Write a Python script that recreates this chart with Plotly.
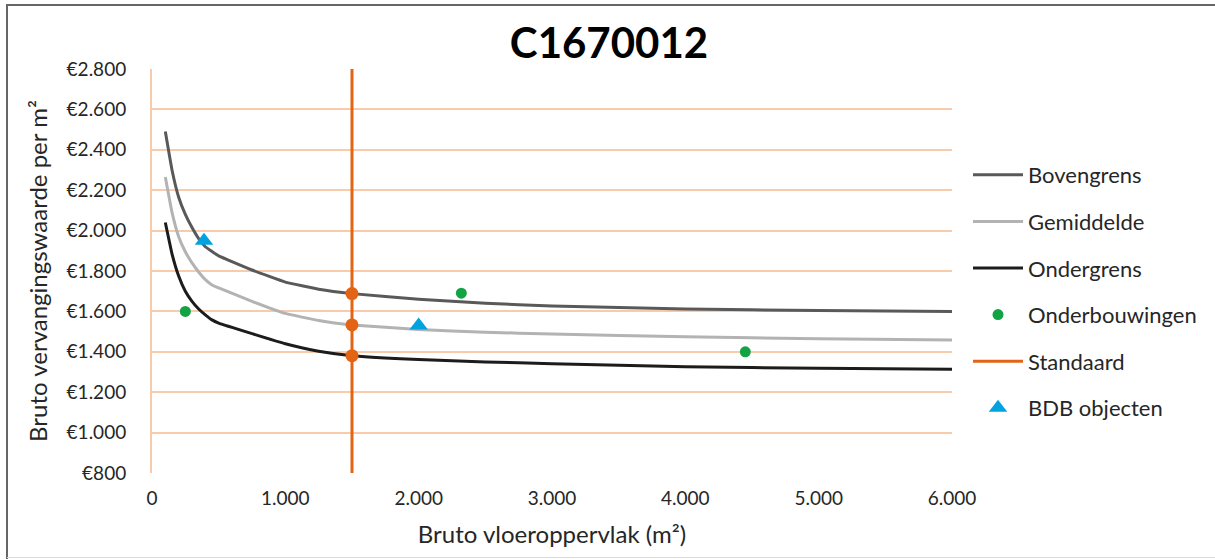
import plotly.graph_objects as go

# Bandbreedte van de vervangingswaarde (EUR per m2) als functie van het bruto vloeroppervlak
opp = [100, 150, 200, 250, 300, 350, 400, 450, 500, 750, 1000, 1250, 1500,
       2000, 2500, 3000, 4000, 5000, 6000]
bovengrens = [2490, 2300, 2165, 2080, 2015, 1960, 1920, 1897, 1875, 1805, 1745,
              1710, 1688, 1660, 1640, 1627, 1612, 1604, 1599]
gemiddelde = [2265, 2090, 1970, 1895, 1840, 1795, 1757, 1731, 1716, 1650, 1590,
              1555, 1533, 1510, 1497, 1488, 1474, 1465, 1459]
ondergrens = [2040, 1885, 1775, 1700, 1650, 1612, 1583, 1558, 1542, 1490, 1440,
              1403, 1381, 1362, 1350, 1341, 1326, 1318, 1313]

# Onderbouwingen
onderb_x = [250, 2320, 4450]
onderb_y = [1600, 1690, 1400]

# BDB objecten
bdb_x = [390, 2000]
bdb_y = [1950, 1530]

# Standaard oppervlak en snijpunten met de drie lijnen
standaard_x = 1500
standaard_snij = [1688, 1533, 1381]

y_ticks = [800, 1000, 1200, 1400, 1600, 1800, 2000, 2200, 2400, 2600, 2800]
y_labels = ["€800", "€1.000", "€1.200", "€1.400", "€1.600", "€1.800", "€2.000",
            "€2.200", "€2.400", "€2.600", "€2.800"]
x_ticks = [0, 1000, 2000, 3000, 4000, 5000, 6000]
x_labels = ["0", "1.000", "2.000", "3.000", "4.000", "5.000", "6.000"]

FONT = "Lato"
GRID = "#F8CBAD"
TXT = "#262626"
W, H = 1215, 559
L, R, T, B = 152, 263, 69, 86

fig = go.Figure()

line_style = dict(shape="spline", smoothing=0.3)
fig.add_trace(go.Scatter(x=opp, y=bovengrens, mode="lines", name="Bovengrens",
                         line=dict(color="#595959", width=3, **line_style),
                         legendgroup="a"))
fig.add_trace(go.Scatter(x=opp, y=gemiddelde, mode="lines", name="Gemiddelde",
                         line=dict(color="#B3B3B3", width=3, **line_style),
                         legendgroup="b"))
fig.add_trace(go.Scatter(x=opp, y=ondergrens, mode="lines", name="Ondergrens",
                         line=dict(color="#1C1C1C", width=3, **line_style),
                         legendgroup="c"))
fig.add_trace(go.Scatter(x=onderb_x, y=onderb_y, mode="markers", name="Onderbouwingen",
                         marker=dict(color="#12A444", size=11, symbol="circle"),
                         legendgroup="d"))
fig.add_trace(go.Scatter(x=[standaard_x, standaard_x], y=[y_ticks[0], y_ticks[-1]],
                         mode="lines", name="Standaard",
                         line=dict(color="#E36414", width=3), legendgroup="e"))
fig.add_trace(go.Scatter(x=[standaard_x] * len(standaard_snij), y=standaard_snij,
                         mode="markers", showlegend=False,
                         marker=dict(color="#E36414", size=13), legendgroup="e"))
fig.add_trace(go.Scatter(x=bdb_x, y=bdb_y, mode="markers", name="BDB objecten",
                         marker=dict(color="#00A3E0", size=16, symbol="triangle-up"),
                         legendgroup="f"))


def px_x(p):
    return (p - L) / (W - L - R)


def px_y(p):
    return (H - B - p) / (H - T - B)


# Kaderlijnen rond de grafiek
fig.add_shape(type="line", xref="paper", yref="paper",
              x0=px_x(7), x1=px_x(7), y0=px_y(5), y1=px_y(559),
              line=dict(color="#666666", width=2))
fig.add_shape(type="line", xref="paper", yref="paper",
              x0=px_x(6), x1=px_x(1215), y0=px_y(5), y1=px_y(5),
              line=dict(color="#666666", width=2))
fig.add_shape(type="line", xref="paper", yref="paper",
              x0=px_x(7), x1=px_x(1215), y0=px_y(557.5), y1=px_y(557.5),
              line=dict(color="#D9D9D9", width=1))

fig.update_layout(
    width=W, height=H,
    margin=dict(l=L, r=R, t=T, b=B),
    paper_bgcolor="white", plot_bgcolor="white",
    font=dict(family=FONT, color=TXT),
    title=dict(text="<b>C1670012</b>", x=609 / W, xref="container", xanchor="center",
               y=1 - 43 / H, yref="container", yanchor="middle",
               font=dict(family=FONT, size=42, color="#000000")),
    xaxis=dict(range=[0, 6000], tickvals=x_ticks, ticktext=x_labels,
               showgrid=False, zeroline=False, showline=False,
               ticks="", ticklabelstandoff=12, tickfont=dict(size=19, color=TXT),
               title=dict(text="Bruto vloeroppervlak (m²)", standoff=18,
                          font=dict(size=24, color=TXT))),
    yaxis=dict(range=[800, 2800], tickvals=y_ticks, ticktext=y_labels,
               showgrid=True, gridcolor=GRID, gridwidth=2, zeroline=False,
               showline=True, linecolor=GRID, linewidth=2, ticks="",
               ticklabelstandoff=20, tickfont=dict(size=19, color=TXT),
               title=dict(text="Bruto vervangingswaarde per m²", standoff=12,
                          font=dict(size=24, color=TXT))),
    legend=dict(x=px_x(968), y=px_y(154), xanchor="left", yanchor="top",
                font=dict(size=22, color=TXT), tracegroupgap=15,
                itemwidth=50, bgcolor="rgba(0,0,0,0)"),
    showlegend=True,
)

fig.write_html("out.html")
